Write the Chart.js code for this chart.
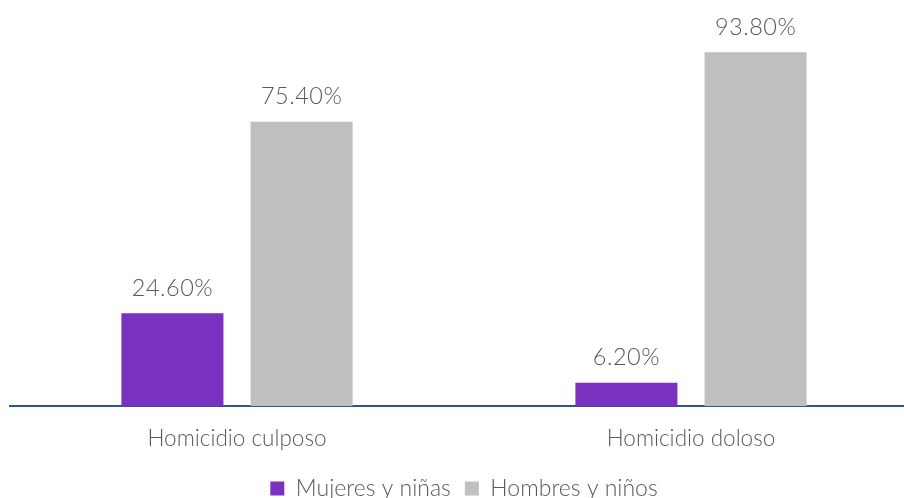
<!DOCTYPE html>
<html lang="es">
<head>
  <meta charset="UTF-8" />
  <title>Homicidios por sexo</title>
  <script src="https://cdn.jsdelivr.net/npm/chart.js"></script>
  <style>
    html, body {
      margin: 0;
      padding: 0;
      background: #ffffff;
      overflow: hidden;
    }
    .chart-box {
      width: 918px;
      height: 510px;
    }
  </style>
</head>
<body>
  <div class="chart-box">
    <canvas id="grafica"></canvas>
  </div>

  <script>
    const categorias = ['Homicidio culposo', 'Homicidio doloso'];
    const mujeres = [24.6, 6.2];
    const hombres = [75.4, 93.8];
    const series = ['Mujeres y niñas', 'Hombres y niños'];

    const fuente = "Lato, 'Open Sans', sans-serif";

    // etiquetas de porcentaje sobre cada barra
    const etiquetas = {
      id: 'etiquetas',
      afterDatasetsDraw(chart) {
        const ctx = chart.ctx;
        ctx.save();
        ctx.font = '300 23.5px ' + fuente;
        ctx.letterSpacing = '0.5px';
        ctx.fillStyle = '#595959';
        ctx.textAlign = 'center';
        ctx.textBaseline = 'middle';
        chart.data.datasets.forEach((ds, i) => {
          chart.getDatasetMeta(i).data.forEach((bar, j) => {
            ctx.fillText(ds.data[j].toFixed(2) + '%', bar.x, bar.y - 25);
          });
        });
        ctx.restore();
      }
    };

    const ctx = document.getElementById('grafica').getContext('2d');
    new Chart(ctx, {
      type: 'bar',
      data: {
        labels: categorias,
        datasets: [
          {
            label: series[0],
            data: mujeres,
            backgroundColor: '#7B31BF',
            categoryPercentage: 0.569,
            barPercentage: 0.79
          },
          {
            label: series[1],
            data: hombres,
            backgroundColor: '#BFBFBF',
            categoryPercentage: 0.569,
            barPercentage: 0.79
          }
        ]
      },
      options: {
        responsive: true,
        maintainAspectRatio: false,
        animation: false,
        layout: {
          padding: { left: 10, right: 0, top: 29, bottom: 0 }
        },
        plugins: {
          tooltip: { enabled: false },
          legend: {
            position: 'bottom',
            labels: {
              font: { family: fuente, size: 23, weight: '300' },
              color: '#595959',
              boxWidth: 14,
              boxHeight: 14,
              padding: 14
            }
          }
        },
        scales: {
          x: {
            grid: { display: false },
            border: { color: '#2F5597', width: 2 },
            ticks: {
              font: { family: fuente, size: 22.5, weight: '300' },
              color: '#595959',
              padding: 11
            }
          },
          y: {
            display: false,
            min: 0,
            max: 100
          }
        }
      },
      plugins: [etiquetas]
    });
  </script>
</body>
</html>
